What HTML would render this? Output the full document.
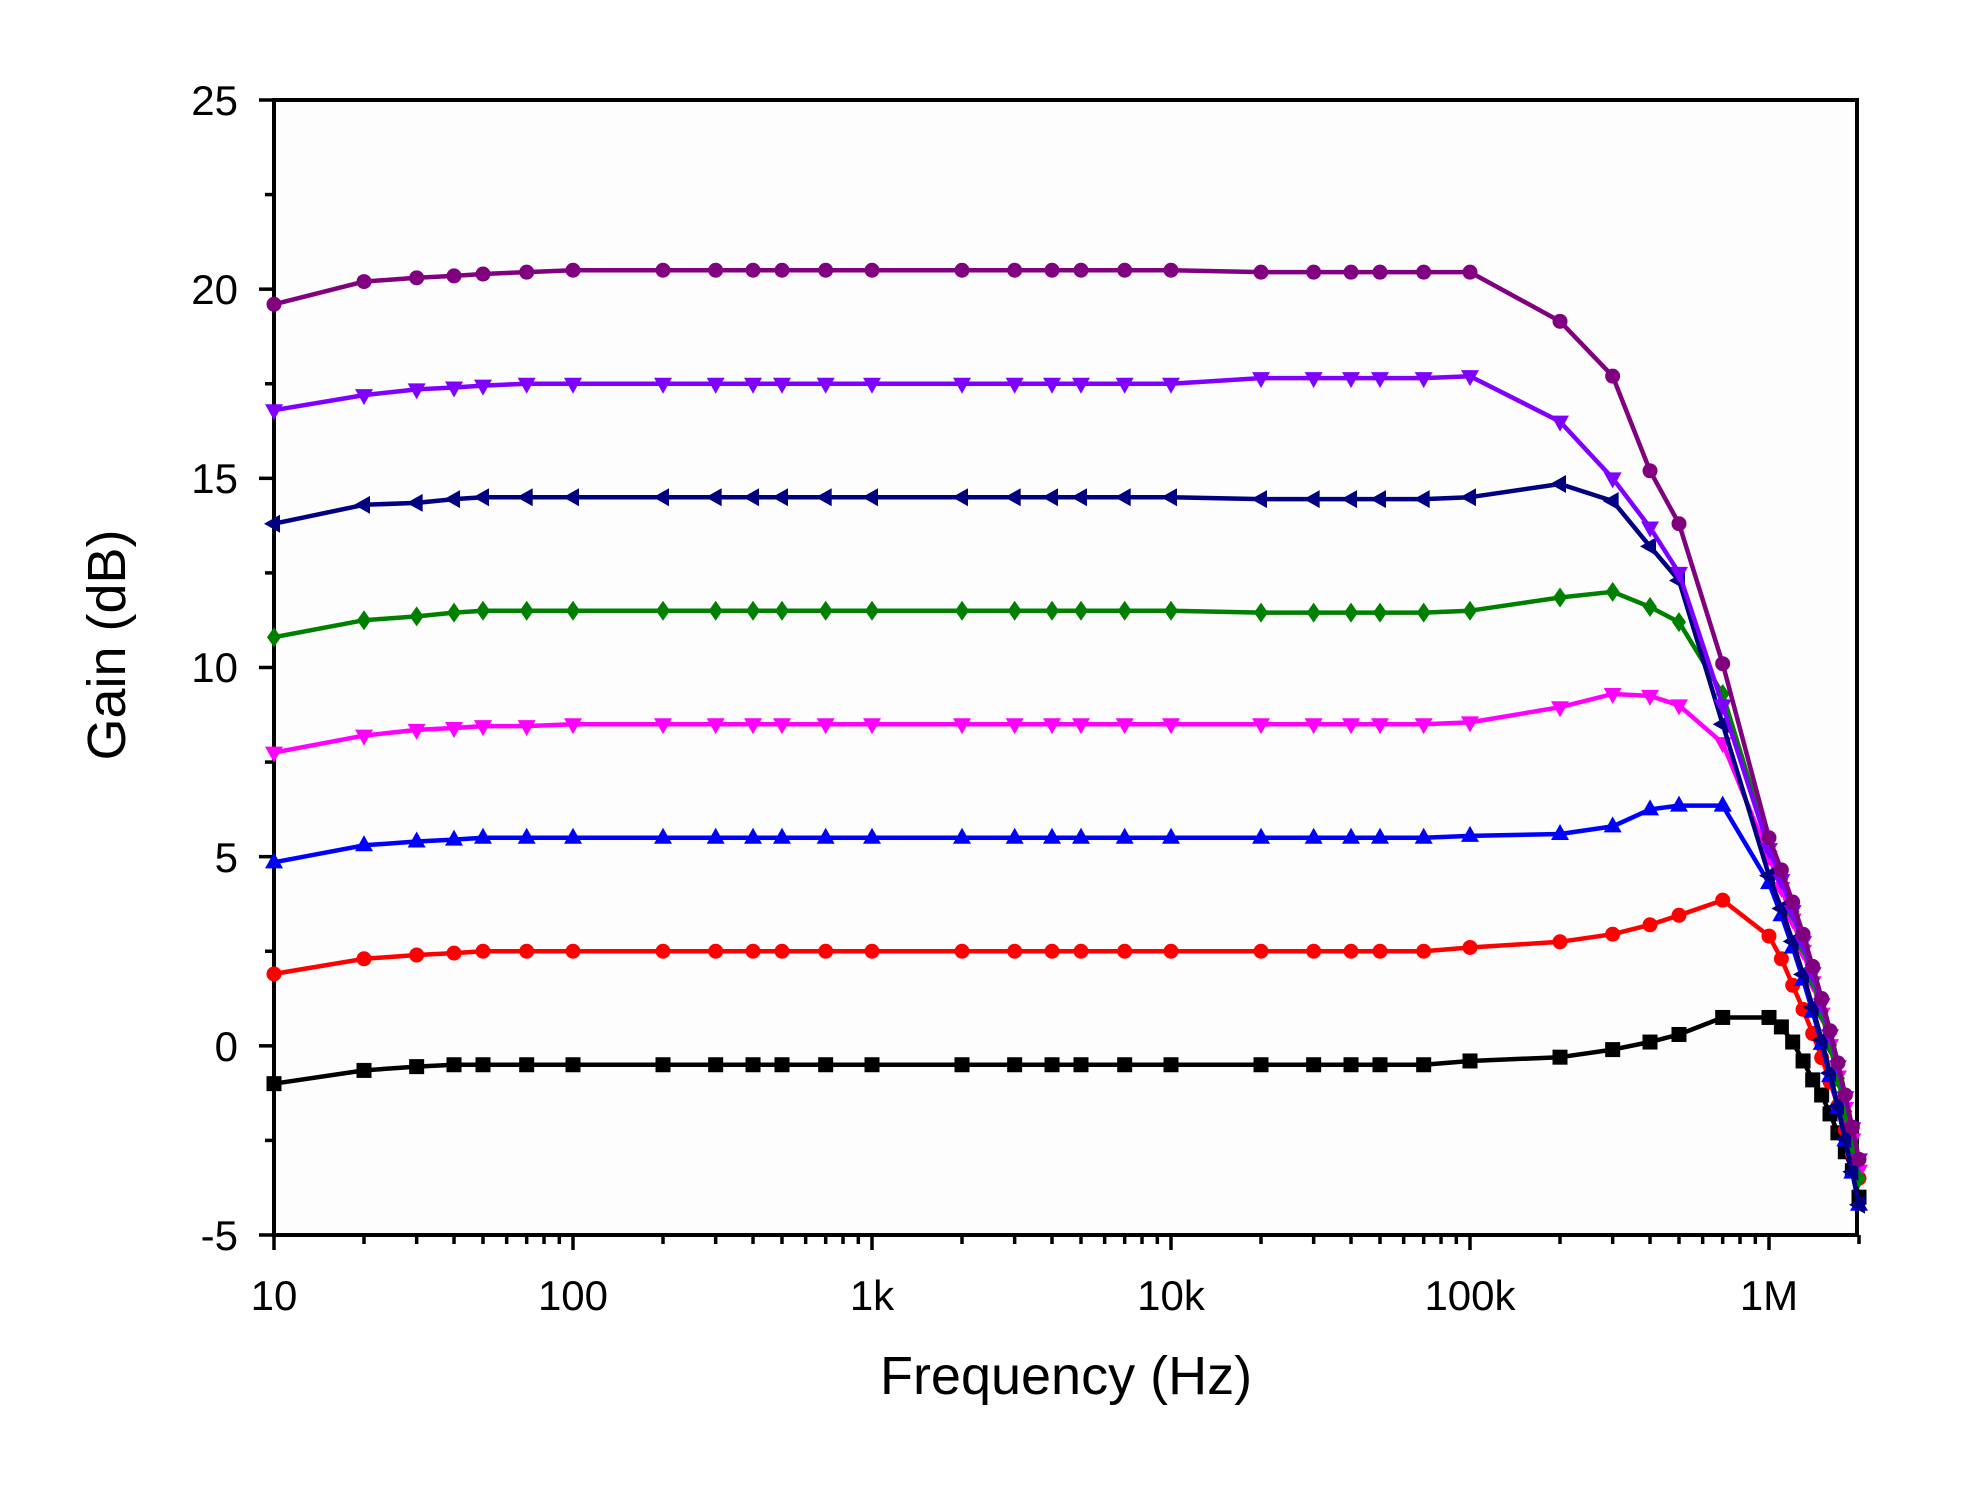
<!DOCTYPE html>
<html><head><meta charset="utf-8"><style>html,body{margin:0;padding:0;background:#fff}svg{display:block}</style></head>
<body>
<svg id="s" width="1982" height="1486" xmlns="http://www.w3.org/2000/svg" font-family="Liberation Sans, Arial, sans-serif">
<rect width="1982" height="1486" fill="#fff"/>
<rect x="274" y="100" width="1583" height="1135" fill="#fdfdfd" stroke="#000" stroke-width="4"/>
<g id="ticks" stroke="#000" stroke-width="3.5"></g>
<g id="series"></g>
<g font-size="42" text-anchor="end" fill="#000">
<text x="238" y="115">25</text>
<text x="238" y="304">20</text>
<text x="238" y="493">15</text>
<text x="238" y="682">10</text>
<text x="238" y="872">5</text>
<text x="238" y="1061">0</text>
<text x="238" y="1250">-5</text>
</g>
<g font-size="42" text-anchor="middle" fill="#000">
<text x="274" y="1310">10</text>
<text x="573" y="1310">100</text>
<text x="872" y="1310">1k</text>
<text x="1171" y="1310">10k</text>
<text x="1470" y="1310">100k</text>
<text x="1769" y="1310">1M</text>
</g>
<text x="1066" y="1394" font-size="54" text-anchor="middle">Frequency (Hz)</text>
<text transform="translate(125,645) rotate(-90)" font-size="54" text-anchor="middle">Gain (dB)</text>
</svg>
<script>
var X=function(f){return 274+299*(Math.log10(f)-1)};
var Y=function(v){return 100+(25-v)*37.833};
var t=document.getElementById('ticks'),h='';
for(var d=1;d<=7;d++){for(var m=1;m<=9;m++){var f=m*Math.pow(10,d);if(f>2e6)break;var x=X(f);var L=(m==1)?15:9;h+='<line x1="'+x+'" y1="1235" x2="'+x+'" y2="'+(1235+L)+'"/>';}}
for(var v=-5;v<=25;v+=2.5){var y=Y(v);var L=(v%5==0)?15:9;h+='<line x1="274" y1="'+y+'" x2="'+(274-L)+'" y2="'+y+'"/>';}
t.innerHTML=h;
var F=[10,20,30,40,50,70,100,200,300,400,500,700,1e3,2e3,3e3,4e3,5e3,7e3,1e4,2e4,3e4,4e4,5e4,7e4,1e5,2e5,3e5,4e5,5e5,7e5,1e6];
function mk(low,flat,mid,tail){var v=low.slice();while(v.length<19)v.push(flat);v.push(mid[0]);v.push(mid[0]);v.push(mid[0]);v.push(mid[0]);v.push(mid[0]);for(var i=1;i<mid.length;i++)v.push(mid[i]);
var pts=[];for(var i=0;i<F.length;i++)pts.push([F[i],v[i]]);
var fs=[1.1e6,1.2e6,1.3e6,1.4e6,1.5e6,1.6e6,1.7e6,1.8e6,1.9e6,2e6];for(var i=0;i<fs.length;i++)pts.push([fs[i],tail[i]]);return pts;}
function lin(a,b,n){var r=[];for(var i=1;i<=n;i++)r.push(a+(b-a)*i/n);return r;}
var S=[
['#000','sq',mk([-1.0,-0.65,-0.55,-0.5,-0.5,-0.5],-0.5,[-0.5,-0.4,-0.3,-0.1,0.1,0.3,0.75,0.75],[0.5,0.1,-0.4,-0.9,-1.3,-1.8,-2.3,-2.8,-3.3,-4.0])],
['#f00','ci',mk([1.9,2.3,2.4,2.45,2.5,2.5],2.5,[2.5,2.6,2.75,2.95,3.2,3.45,3.85,2.9],[2.3,1.6].concat(lin(1.6,-3.5,8)))],
['#00f','up',mk([4.85,5.3,5.4,5.45,5.5,5.5],5.5,[5.5,5.55,5.6,5.8,6.25,6.35,6.35,4.3],lin(4.3,-4.2,10))],
['#f0f','dn',mk([7.75,8.2,8.35,8.4,8.45,8.45],8.5,[8.5,8.55,8.95,9.3,9.25,9.0,8.0,5.0],lin(5.0,-3.3,10))],
['#008000','di',mk([10.8,11.25,11.35,11.45,11.5,11.5],11.5,[11.45,11.5,11.85,12.0,11.6,11.2,9.3,5.3],lin(5.3,-3.5,10))],
['#000080','lt',mk([13.8,14.3,14.35,14.45,14.5,14.5],14.5,[14.45,14.5,14.85,14.4,13.2,12.3,8.5,4.5],lin(4.5,-4.2,10))],
['#8000ff','dn',mk([16.8,17.2,17.35,17.4,17.45,17.5],17.5,[17.65,17.7,16.5,15.0,13.7,12.5,9.0,5.2],lin(5.2,-3.0,10))],
['#800080','ci',mk([19.6,20.2,20.3,20.35,20.4,20.45],20.5,[20.45,20.45,19.15,17.7,15.2,13.8,10.1,5.5],lin(5.5,-3.0,10))]
];
var g='';
S.forEach(function(s){var c=s[0],p=s[2];var d='';p.forEach(function(q,i){d+=(i?'L':'M')+X(q[0]).toFixed(1)+','+Y(q[1]).toFixed(1);});
g+='<path d="'+d+'" fill="none" stroke="'+c+'" stroke-width="4.5" stroke-linejoin="round"/>';
p.forEach(function(q){var x=X(q[0]),y=Y(q[1]),r=7.5;
if(s[1]=='sq')g+='<rect x="'+(x-r)+'" y="'+(y-r)+'" width="'+2*r+'" height="'+2*r+'" fill="'+c+'"/>';
else if(s[1]=='ci')g+='<circle cx="'+x+'" cy="'+y+'" r="'+r+'" fill="'+c+'"/>';
else if(s[1]=='up')g+='<polygon points="'+x+','+(y-10)+' '+(x-9)+','+(y+6)+' '+(x+9)+','+(y+6)+'" fill="'+c+'"/>';
else if(s[1]=='dn')g+='<polygon points="'+x+','+(y+10)+' '+(x-9)+','+(y-6)+' '+(x+9)+','+(y-6)+'" fill="'+c+'"/>';
else if(s[1]=='lt')g+='<polygon points="'+(x-10)+','+y+' '+(x+6)+','+(y-9)+' '+(x+6)+','+(y+9)+'" fill="'+c+'"/>';
else g+='<polygon points="'+x+','+(y-10)+' '+(x+7)+','+y+' '+x+','+(y+10)+' '+(x-7)+','+y+'" fill="'+c+'"/>';
});});
document.getElementById('series').innerHTML=g;
</script>
</body></html>
